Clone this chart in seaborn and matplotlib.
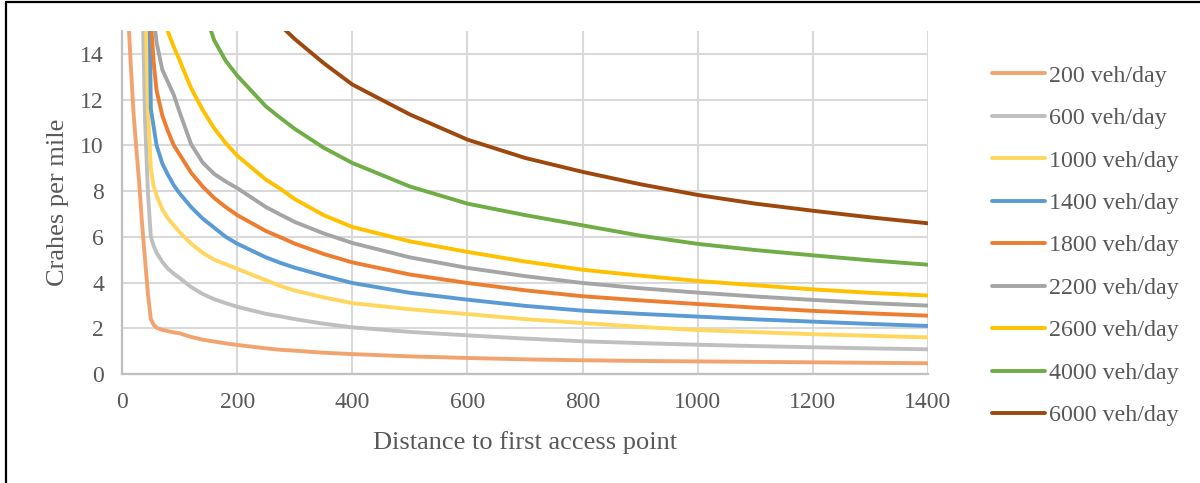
import numpy as np
import pandas as pd
import matplotlib
matplotlib.use("Agg")
import matplotlib.pyplot as plt
from matplotlib.lines import Line2D
import seaborn as sns

# Distance to first access point (ft) at which crash rates were evaluated
distance = [10, 15, 20, 25, 30, 35, 40, 45, 50, 55, 60, 70, 80, 90, 100,
            120, 140, 160, 180, 200, 250, 275, 300, 350, 400, 500, 600, 700,
            800, 900, 1000, 1100, 1200, 1300, 1400]

nan = np.nan
# Crashes per mile for each traffic volume
crash_200 = [16.0, 13.6, 11.4, 9.8, 8.3, 6.5, 5.0, 3.5, 2.4, 2.15, 2.02, 1.93,
             1.87, 1.82, 1.78, 1.62, 1.5, 1.42, 1.34, 1.27, 1.12, 1.06, 1.02,
             0.93, 0.87, 0.77, 0.7, 0.64, 0.6, 0.57, 0.55, 0.53, 0.51, 0.49,
             0.47]
crash_600 = [nan, nan, nan, nan, nan, 17.0, 11.1, 7.9, 6.0, 5.6, 5.3, 4.9,
             4.6, 4.38, 4.2, 3.8, 3.5, 3.27, 3.1, 2.94, 2.63, 2.52, 2.4, 2.2,
             2.04, 1.84, 1.69, 1.55, 1.43, 1.35, 1.28, 1.22, 1.17, 1.12, 1.08]
crash_1000 = [nan, nan, nan, nan, nan, nan, 17.0, 11.6, 9.0, 8.2, 7.8, 7.2,
              6.8, 6.5, 6.2, 5.7, 5.3, 5.0, 4.8, 4.6, 4.1, 3.85, 3.65, 3.35,
              3.1, 2.83, 2.62, 2.4, 2.23, 2.06, 1.92, 1.83, 1.74, 1.67, 1.6]
crash_1400 = [nan, nan, nan, nan, nan, nan, nan, 22.0, 11.6, 10.8, 10.0, 9.2,
              8.7, 8.25, 7.9, 7.3, 6.8, 6.4, 6.0, 5.7, 5.1, 4.86, 4.65, 4.3,
              3.98, 3.55, 3.25, 2.98, 2.77, 2.63, 2.51, 2.39, 2.29, 2.19, 2.1]
crash_1800 = [nan, nan, nan, nan, nan, nan, nan, 20.0, 15.5, 13.6, 12.4, 11.3,
              10.6, 10.0, 9.6, 8.8, 8.2, 7.7, 7.3, 6.95, 6.25, 5.98, 5.7, 5.25,
              4.88, 4.35, 3.98, 3.66, 3.4, 3.22, 3.06, 2.9, 2.76, 2.65, 2.55]
crash_2200 = [nan, nan, nan, nan, nan, nan, nan, nan, 18.0, 15.6, 14.5, 13.3,
              12.75, 12.2, 11.45, 10.05, 9.25, 8.75, 8.42, 8.13, 7.3, 6.97,
              6.65, 6.15, 5.73, 5.1, 4.64, 4.28, 3.98, 3.75, 3.56, 3.39, 3.24,
              3.1, 2.99]
crash_2600 = [nan, nan, nan, nan, nan, nan, nan, nan, nan, nan, nan, 15.6,
              14.95, 14.3, 13.72, 12.5, 11.55, 10.75, 10.1, 9.55, 8.5, 8.1,
              7.65, 6.95, 6.43, 5.8, 5.34, 4.92, 4.56, 4.3, 4.07, 3.88, 3.7,
              3.55, 3.43]
crash_4000 = [nan, nan, nan, nan, nan, nan, nan, nan, nan, nan, nan, nan,
              nan, nan, nan, nan, 16.1, 14.6, 13.7, 13.05, 11.7, 11.2, 10.72,
              9.9, 9.23, 8.2, 7.45, 6.95, 6.5, 6.05, 5.69, 5.42, 5.19, 4.97,
              4.78]
crash_6000 = [nan, nan, nan, nan, nan, nan, nan, nan, nan, nan, nan, nan,
              nan, nan, nan, nan, nan, nan, nan, nan, 15.9, 15.25, 14.65, 13.6,
              12.66, 11.35, 10.25, 9.45, 8.84, 8.3, 7.83, 7.45, 7.14, 6.85,
              6.59]

volume_labels = ["200 veh/day", "600 veh/day", "1000 veh/day", "1400 veh/day",
                 "1800 veh/day", "2200 veh/day", "2600 veh/day",
                 "4000 veh/day", "6000 veh/day"]
series = [crash_200, crash_600, crash_1000, crash_1400, crash_1800,
          crash_2200, crash_2600, crash_4000, crash_6000]
colors = ["#F2A470", "#BFBFBF", "#FFD75E", "#5B9BD5", "#ED7D31",
          "#A5A5A5", "#FFC000", "#70AD47", "#9E480E"]

frames = []
for label, values in zip(volume_labels, series):
    frames.append(pd.DataFrame({"distance": distance, "crashes": values,
                                "volume": label}))
df = pd.concat(frames, ignore_index=True).dropna()

sns.set_theme(style="white")
plt.rcParams["font.family"] = ["Liberation Serif", "DejaVu Serif"]

text_color = "#595959"
fig = plt.figure(figsize=(12, 4.83), dpi=100)
ax = fig.add_axes([0.1017, 0.2257, 0.6716, 0.7101])

sns.lineplot(data=df, x="distance", y="crashes", hue="volume",
             hue_order=volume_labels, palette=colors, estimator=None,
             sort=False, linewidth=2.8, ax=ax)

ax.set_xlim(0, 1400)
ax.set_ylim(0, 15)
ax.set_xticks(range(0, 1401, 200))
ax.set_yticks(range(0, 15, 2))
ax.grid(True, color="#D9D9D9", linewidth=1.5)
ax.set_axisbelow(True)
for side in ("top", "right"):
    ax.spines[side].set_visible(False)
for side in ("left", "bottom"):
    ax.spines[side].set_color("#BFBFBF")
    ax.spines[side].set_linewidth(1.6)
ax.tick_params(axis="both", length=0, labelsize=17, colors=text_color)
ax.tick_params(axis="y", pad=13)
ax.tick_params(axis="x", pad=13)
ax.set_xlabel("Distance to first access point", fontsize=19,
              color=text_color, labelpad=13)
ax.set_ylabel("Crahes per mile", fontsize=19, color=text_color, labelpad=8)

handles, labels = ax.get_legend_handles_labels()
ax.get_legend().remove()
fig.legend(handles, labels, loc="upper left",
           bbox_to_anchor=(0.8267, 0.866), bbox_transform=fig.transFigure,
           frameon=False, fontsize=17.3, labelcolor=text_color,
           handlelength=2.2, handletextpad=0.17, labelspacing=0.86,
           borderpad=0, borderaxespad=0)

# chart frame along the left and top edges
fig.add_artist(Line2D([0.005, 0.005], [0.0, 0.996], color="black",
                      linewidth=1.6, transform=fig.transFigure))
fig.add_artist(Line2D([0.005, 1.0], [0.996, 0.996], color="black",
                      linewidth=1.6, transform=fig.transFigure))

fig.savefig("out.png", dpi=100)
